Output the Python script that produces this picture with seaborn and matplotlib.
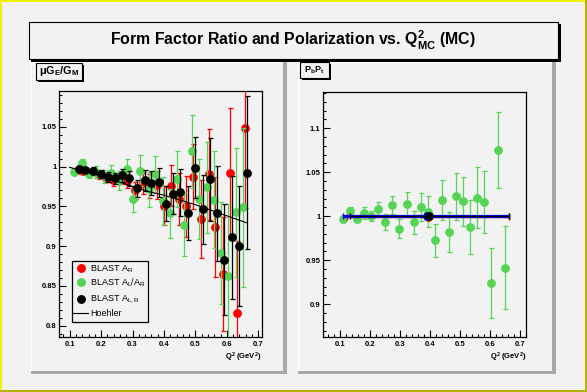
import numpy as np
import matplotlib
matplotlib.use("Agg")
import matplotlib.pyplot as plt
from matplotlib.patches import Rectangle
from matplotlib.ticker import MultipleLocator, FuncFormatter
import seaborn as sns

plt.rcParams["font.family"] = ["Liberation Sans", "DejaVu Sans"]
plt.rcParams["mathtext.default"] = "regular"

BG = "#f2f2f2"
RED = "#ff0000"
GREEN = "#55d455"
BLUE = "#0000ff"

# ---- left panel: muGE/GM ----
q2_red = [0.125, 0.144, 0.167, 0.194, 0.216, 0.238, 0.262, 0.284, 0.307, 0.333, 0.354, 0.377,
          0.401, 0.422, 0.449, 0.470, 0.492, 0.519, 0.542, 0.563, 0.587, 0.610, 0.632, 0.658]
ratio_red = [0.996, 0.995, 0.993, 0.989, 0.986, 0.983, 0.986, 0.982, 0.970, 0.979, 0.976, 0.977,
             0.951, 0.976, 0.959, 0.950, 0.987, 0.934, 0.990, 0.924, 0.865, 0.992, 0.816, 1.048]
err_red = [0.003, 0.003, 0.004, 0.005, 0.006, 0.007, 0.008, 0.009, 0.011, 0.013, 0.015, 0.018,
           0.025, 0.026, 0.033, 0.038, 0.041, 0.049, 0.057, 0.063, 0.072, 0.082, 0.090, 0.100]

q2_green = [0.115, 0.138, 0.162, 0.185, 0.208, 0.232, 0.257, 0.281, 0.303, 0.325, 0.351, 0.372,
            0.396, 0.420, 0.442, 0.464, 0.490, 0.513, 0.536, 0.558, 0.580, 0.605, 0.629, 0.652]
ratio_green = [0.9937, 1.004, 0.991, 0.993, 0.9875, 0.9925, 0.982, 0.9966, 0.959, 0.995, 0.9716, 0.990,
               0.957, 0.941, 0.984, 0.927, 1.019, 0.959, 0.974, 0.958, 0.8916, 0.8625, 0.9425, 0.949]
err_green = [0.004, 0.005, 0.006, 0.008, 0.008, 0.010, 0.012, 0.013, 0.016, 0.020, 0.022, 0.023,
             0.030, 0.031, 0.035, 0.040, 0.046, 0.050, 0.057, 0.061, 0.064, 0.090, 0.081, 0.100]

q2_black = [0.131, 0.150, 0.173, 0.200, 0.222, 0.244, 0.268, 0.290, 0.313, 0.339, 0.360, 0.383,
            0.408, 0.430, 0.452, 0.477, 0.499, 0.524, 0.547, 0.570, 0.591, 0.617, 0.640, 0.664]
ratio_black = [0.9975, 0.996, 0.995, 0.991, 0.987, 0.985, 0.989, 0.985, 0.9725, 0.9825, 0.979, 0.980,
               0.953, 0.966, 0.9675, 0.941, 0.9987, 0.946, 0.984, 0.941, 0.883, 0.911, 0.900, 0.9925]
err_black = [0.003, 0.003, 0.004, 0.005, 0.006, 0.007, 0.008, 0.009, 0.011, 0.013, 0.015, 0.018,
             0.022, 0.026, 0.030, 0.034, 0.038, 0.043, 0.052, 0.060, 0.070, 0.077, 0.076, 0.096]

hoehler_q2 = [0.10, 0.20, 0.30, 0.356, 0.40, 0.50, 0.60, 0.665]
hoehler_ratio = [0.999, 0.988, 0.975, 0.968, 0.964, 0.952, 0.938, 0.929]

# ---- right panel: PbPt ----
q2_pol = [0.111, 0.133, 0.158, 0.181, 0.204, 0.228, 0.251, 0.274, 0.298, 0.323, 0.348, 0.371,
          0.394, 0.417, 0.441, 0.464, 0.488, 0.511, 0.534, 0.558, 0.581, 0.604, 0.628, 0.651]
pol_green = [0.997, 1.0064, 0.997, 1.0034, 1.0003, 1.008, 0.993, 1.0125, 0.986, 1.0136, 0.993, 1.0106,
             1.005, 0.9727, 1.0185, 0.9818, 1.0227, 1.017, 0.9875, 1.0212, 1.016, 0.9239, 1.075, 0.9416]
pol_err = [0.004, 0.004, 0.004, 0.007, 0.006, 0.008, 0.009, 0.010, 0.011, 0.0136, 0.013, 0.0156,
           0.0177, 0.019, 0.0225, 0.023, 0.027, 0.028, 0.031, 0.0345, 0.035, 0.040, 0.043, 0.047]

avg_q2 = [0.394, 0.390, 0.398]          # red, blue, black
avg_pol = [0.9992, 1.0, 1.0006]
avg_q2_lo = [0.124, 0.111, 0.133]
avg_q2_hi = [0.664, 0.664, 0.664]
avg_colors = [RED, BLUE, "black"]
avg_widths = [1.0, 2.3, 1.0]

W, H = 587, 392
fig = plt.figure(figsize=(W / 100, H / 100), dpi=100, facecolor=BG)


def prect(x0, y0, x1, y1, **kw):
    kw.setdefault("zorder", -5)
    r = Rectangle((x0 / W, 1 - y1 / H), (x1 - x0) / W, (y1 - y0) / H,
                  transform=fig.transFigure, **kw)
    fig.add_artist(r)
    return r


# canvas border
prect(0, 0, W, 2, fc="#f0f000", ec="none")
prect(0, 0, 2, H, fc="#f0f000", ec="none")
prect(0, H - 2, W, H, fc="#b4b400", ec="none")
prect(W - 2, 0, W, H, fc="#b4b400", ec="none")

# pads with bevel
for x0, x1 in [(31, 287), (298, 556)]:
    prect(x0, 62, x1, 374, fc=BG, ec="none", zorder=-6)
    prect(x0, 62, x1, 63, fc="white", ec="none")
    prect(x0, 62, x0 + 1, 374, fc="white", ec="none")
    prect(x1 - 4, 62, x1, 374, fc="#a8a8a8", ec="none")
    prect(x0, 371, x1, 374, fc="#a8a8a8", ec="none")

# title box
prect(31, 24, 561, 62, fc="black", ec="none", zorder=2)
prect(29, 22, 558, 59, fc=BG, ec="black", lw=0.8, zorder=3)
fig.text(292.5 / W, 1 - 40.5 / H, "Form Factor Ratio and Polarization vs. Q$^2_{MC}$ (MC)",
         ha="center", va="center", fontsize=11.4, fontweight="bold", zorder=4)

# pad label boxes
prect(38, 65, 84, 82, fc="black", ec="none", zorder=2)
prect(36, 63, 82, 80, fc=BG, ec="black", lw=0.8, zorder=3)
fig.text(59 / W, 1 - 71.5 / H, "μG$_E$/G$_M$", ha="center", va="center",
         fontsize=7.8, fontweight="bold", zorder=4)
prect(302, 64, 331, 80, fc="black", ec="none", zorder=2)
prect(300, 62, 329, 78, fc=BG, ec="black", lw=0.8, zorder=3)
fig.text(314.5 / W, 1 - 70 / H, "P$_b$P$_t$", ha="center", va="center",
         fontsize=6.5, fontweight="bold", zorder=4)

axL = fig.add_axes([59.3 / W, 1 - 336.7 / H, 202.7 / W, 245.7 / H], facecolor=BG)
axR = fig.add_axes([323.3 / W, 1 - 336.7 / H, 203.0 / W, 245.0 / H], facecolor=BG)

fmt = FuncFormatter(lambda v, p: f"{v:g}")
for ax in (axL, axR):
    ax.xaxis.set_major_locator(MultipleLocator(0.1))
    ax.xaxis.set_minor_locator(MultipleLocator(0.02))
    ax.yaxis.set_major_locator(MultipleLocator(0.05))
    ax.yaxis.set_minor_locator(MultipleLocator(0.01))
    ax.xaxis.set_major_formatter(fmt)
    ax.yaxis.set_major_formatter(fmt)
    ax.tick_params(which="both", direction="in", width=0.8, labelsize=5.5)
    ax.tick_params(which="major", length=5)
    ax.tick_params(which="minor", length=2.5)
    ax.tick_params(axis="y", pad=2)
    ax.tick_params(axis="x", pad=3)
    for lab in ax.get_xticklabels() + ax.get_yticklabels():
        lab.set_fontweight("bold")
    for s in ax.spines.values():
        s.set_linewidth(0.9)
    ax.set_xlabel("Q$^2$ (GeV$^2$)", fontsize=5.5, fontweight="bold", loc="right", labelpad=2)
    ax.set_ylabel("")

# left panel
ebkw = dict(fmt="none", elinewidth=0.9, capsize=1.8, capthick=0.9)
for q, r, e, c, z in [(q2_red, ratio_red, err_red, RED, 3),
                      (q2_green, ratio_green, err_green, GREEN, 4),
                      (q2_black, ratio_black, err_black, "black", 5)]:
    axL.errorbar(q, r, yerr=e, ecolor=c, zorder=z, **ebkw)
    sns.scatterplot(x=q, y=r, color=c, s=40, linewidth=0, ax=axL, legend=False, zorder=z)
sns.lineplot(x=hoehler_q2, y=hoehler_ratio, color="black", lw=0.8, ax=axL, sort=False, zorder=6)
axL.set_xlim(0.067, 0.712)
axL.set_ylim(0.786, 1.095)

# legend box (drawn by hand, ROOT style)
axL.add_patch(Rectangle((0.064, 0.0586), 0.375, 0.2507, transform=axL.transAxes,
                        fc=BG, ec="black", lw=0.9, zorder=10))
leg_items = [(RED, "BLAST A$_R$", 0.2784), (GREEN, "BLAST A$_L$/A$_R$", 0.2214),
             ("black", "BLAST A$_{L,R}$", 0.1547)]
for c, lab, yy in leg_items:
    axL.plot([0.107], [yy], "o", ms=6.4, mec="none", color=c, transform=axL.transAxes,
             zorder=11, clip_on=False)
    axL.text(0.151, yy, lab, transform=axL.transAxes, fontsize=6.5, va="center", zorder=11)
axL.plot([0.0676, 0.1416], [0.0953, 0.0953], color="black", lw=0.8, transform=axL.transAxes,
         zorder=11)
axL.text(0.151, 0.0953, "Hoehler", transform=axL.transAxes, fontsize=6.5, va="center", zorder=11)

# right panel
axR.errorbar(q2_pol, pol_green, yerr=pol_err, ecolor=GREEN, zorder=3, **ebkw)
sns.scatterplot(x=q2_pol, y=pol_green, color=GREEN, s=40, linewidth=0, ax=axR, legend=False, zorder=3)
for i in range(len(avg_q2)):
    xerr = [[avg_q2[i] - avg_q2_lo[i]], [avg_q2_hi[i] - avg_q2[i]]]
    axR.errorbar([avg_q2[i]], [avg_pol[i]], xerr=xerr, yerr=[0.001], fmt="none",
                 ecolor=avg_colors[i], elinewidth=avg_widths[i], capsize=2.2,
                 capthick=1.0, zorder=5 + i)
    sns.scatterplot(x=[avg_q2[i]], y=[avg_pol[i]], color=avg_colors[i], s=40, linewidth=0,
                    ax=axR, legend=False, zorder=5 + i)
axR.set_xlim(0.044, 0.721)
axR.set_ylim(0.863, 1.1416)

fig.savefig("out.png", dpi=100, facecolor=BG)
